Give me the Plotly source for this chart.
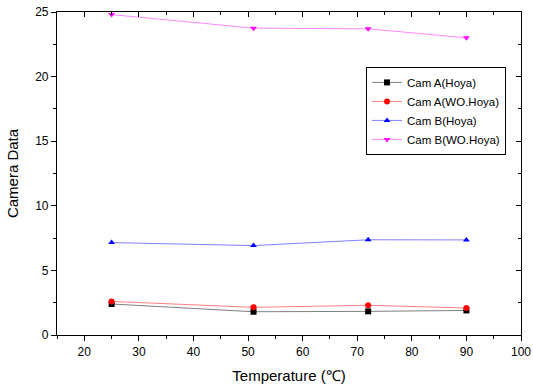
import plotly.graph_objects as go

temps = [25, 51, 72, 90]
cam_a_hoya = [2.4, 1.8, 1.83, 1.9]
cam_a_wo = [2.6, 2.14, 2.3, 2.09]
cam_b_hoya = [7.15, 6.92, 7.37, 7.36]
cam_b_wo = [24.8, 23.75, 23.7, 23.0]

names = ["Cam A(Hoya)", "Cam A(WO.Hoya)", "Cam B(Hoya)", "Cam B(WO.Hoya)"]
series = [cam_a_hoya, cam_a_wo, cam_b_hoya, cam_b_wo]
marker_colors = ["#000000", "#ff0000", "#0000ff", "#ff00ff"]
line_colors = ["#808080", "#ff8080", "#8080ff", "#ff88ff"]
symbols = ["square", "circle", "triangle-up", "triangle-down"]

fig = go.Figure()
for name, vals, mc, lc, sym in zip(names, series, marker_colors, line_colors, symbols):
    fig.add_trace(go.Scatter(
        x=temps, y=vals, name=name, mode="lines+markers",
        line=dict(color=lc, width=1),
        marker=dict(color=mc, symbol=sym, size=6),
    ))

font = "Liberation Sans, Arial, sans-serif"
axis_common = dict(showgrid=False, zeroline=False, showline=True, linecolor="black",
                   linewidth=1.2, tickcolor="black", tickwidth=1, automargin=False)

fig.update_layout(
    width=533, height=386,
    margin=dict(l=57, r=12, t=12, b=51),
    plot_bgcolor="white", paper_bgcolor="white",
    font=dict(family=font, color="black", size=12),
    xaxis=dict(range=[15, 100], dtick=10, tick0=0, ticks="outside", ticklen=5,
               minor=dict(dtick=5, ticks="outside", ticklen=3, tickcolor="black"),
               title=dict(text="Temperature (℃)", font=dict(size=15), standoff=12),
               **axis_common),
    yaxis=dict(range=[0, 25], dtick=5, ticks="outside", ticklen=5,
               minor=dict(dtick=2.5, ticks="outside", ticklen=3, tickcolor="black"),
               title=dict(text="Camera Data", font=dict(size=15), standoff=12),
               **axis_common),
    xaxis2=dict(range=[15, 100], overlaying="x", side="top", dtick=10, tick0=0,
                ticks="inside", ticklen=5, showticklabels=False,
                minor=dict(dtick=5, ticks="inside", ticklen=3, tickcolor="black"),
                **axis_common),
    yaxis2=dict(range=[0, 25], overlaying="y", side="right", dtick=5,
                ticks="inside", ticklen=5, showticklabels=False,
                minor=dict(dtick=2.5, ticks="inside", ticklen=3, tickcolor="black"),
                **axis_common),
    legend=dict(x=0.666, y=0.83, xanchor="left", yanchor="top",
                bordercolor="black", borderwidth=1, bgcolor="white",
                font=dict(size=11.5), tracegroupgap=0, itemwidth=30),
    showlegend=True,
)
# invisible trace to anchor the mirror axes
fig.add_trace(go.Scatter(x=[temps[0]], y=[cam_a_hoya[0]], xaxis="x2", yaxis="y2",
                         mode="markers", marker=dict(opacity=0), showlegend=False,
                         hoverinfo="skip"))

fig.write_html("out.html")
